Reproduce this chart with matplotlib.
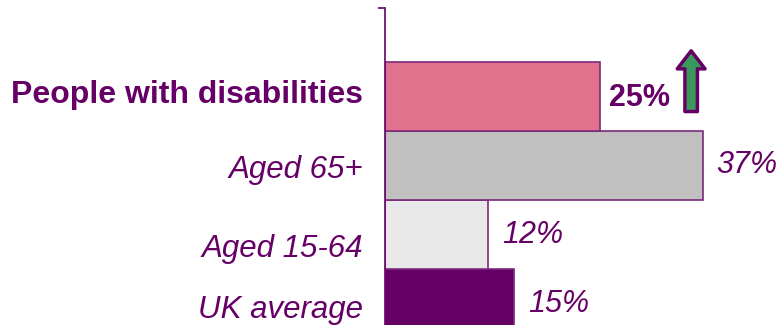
import numpy as np
import matplotlib
matplotlib.use('Agg')
import matplotlib.pyplot as plt

plt.rcParams['font.family'] = ['Liberation Sans', 'DejaVu Sans']

# bottom to top
categories = ['UK average', 'Aged 15-64', 'Aged 65+', 'People with disabilities']
values = [15, 12, 37, 25]
value_labels = ['15%', '12%', '37%', '25%']

PURPLE = '#660066'
EDGE = '#7a2a7a'
colors = ['#660066', '#e8e8e8', '#c0c0c0', '#e0728e']
GREEN = '#3a9a5e'

fig = plt.figure(figsize=(7.78, 3.25), dpi=100)
ax = fig.add_axes([385/778, 0, 344/778, 317/325])

y = np.arange(len(categories))
ax.barh(y, values, height=1.0, color=colors, edgecolor=EDGE, lw=1.2, zorder=2)
ax.set_xlim(0, 40)
ytop = 4.28
ax.set_ylim(-0.312, ytop)

for s in ['top', 'right', 'bottom']:
    ax.spines[s].set_visible(False)
ax.spines['left'].set_color(PURPLE)
ax.spines['left'].set_linewidth(1.2)
ax.set_xticks([])
ax.set_yticks([])
ax.set_yticks([ytop], minor=True)
ax.tick_params(axis='y', which='minor', length=5, color=PURPLE, width=1.2, labelleft=False)

# text baselines sit a little below bar centres (as in the original slide)
cat_drop = [0.21, 0.326, 0.181, 0.094]
val_drop = [0.123, 0.123, 0.109, 0.138]
x_off = [1.6, 1.6, 1.5, 1.05]
for yi, cat, v, lab, cd, vd, xo in zip(y, categories, values, value_labels,
                                       cat_drop, val_drop, x_off):
    bold = cat == 'People with disabilities'
    ax.text(-2.55, yi - cd, cat, ha='right', va='baseline', fontsize=23 if bold else 22.5,
            color=PURPLE, fontweight='bold' if bold else 'normal',
            style='normal' if bold else 'italic', clip_on=False)
    ax.text(v + xo, yi - vd, lab, ha='left', va='baseline', fontsize=22,
            color=PURPLE, fontweight='bold' if bold else 'normal',
            style='normal' if bold else 'italic', clip_on=False)

# up arrow beside the highlighted bar
ax.annotate('', xy=(35.6, 3.66), xytext=(35.6, 2.78),
            arrowprops=dict(arrowstyle='simple,head_width=2.0,head_length=1.3,tail_width=0.9',
                            mutation_scale=10, fc=GREEN, ec=PURPLE, lw=2.5,
                            shrinkA=0, shrinkB=0))

fig.savefig('out.png', dpi=100)
